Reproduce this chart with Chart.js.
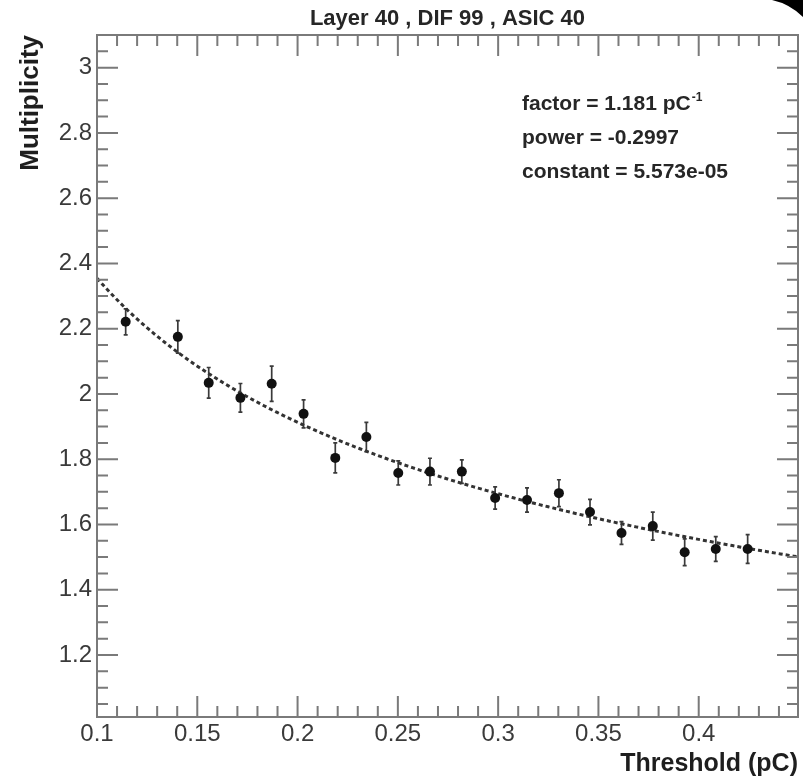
<!DOCTYPE html>
<html>
<head>
<meta charset="utf-8">
<script src="https://cdn.jsdelivr.net/npm/chart.js@4.4.0/dist/chart.umd.min.js"></script>
<style>
  html, body { margin: 0; padding: 0; background: #fff; }
  #wrap { width: 803px; height: 779px; }
</style>
</head>
<body>
<div id="wrap"><canvas id="chart" width="803" height="779"></canvas></div>
<script>
// Threshold scan for Layer 40 / DIF 99 / ASIC 40
const thresholds = [0.1143, 0.1403, 0.1557, 0.1715, 0.1871, 0.2030, 0.2188, 0.2343, 0.2502, 0.2660,
                    0.2819, 0.2985, 0.3144, 0.3303, 0.3458, 0.3615, 0.3771, 0.3930, 0.4085, 0.4244];
const multiplicity = [2.221, 2.175, 2.034, 1.988, 2.031, 1.939, 1.804, 1.868, 1.758, 1.762,
                      1.762, 1.681, 1.675, 1.696, 1.638, 1.574, 1.595, 1.515, 1.525, 1.525];
const multErrors = [0.040, 0.050, 0.047, 0.044, 0.054, 0.043, 0.046, 0.045, 0.037, 0.041,
                    0.036, 0.034, 0.037, 0.041, 0.039, 0.035, 0.043, 0.041, 0.038, 0.044];

// fit result: multiplicity = factor * threshold^power + constant
const fitFactor = 1.181;
const fitPower = -0.2997;
const fitConstant = 5.573e-05;
const fitLabels = ['factor = 1.181 pC', 'power = -0.2997', 'constant = 5.573e-05'];

const plotTitle = 'Layer 40 , DIF 99 , ASIC 40';
const xRange = [0.1, 0.4495];
const yRange = [1.01, 3.1];
const xMajor = 0.05, xMinor = 0.01;
const yMajor = 0.2, yMinor = 0.05;

const FONT = '"Liberation Sans", Arial, Helvetica, sans-serif';
const AXIS_GREY = '#7a7a7a';

// sample the fitted function across the x range
const fitCurve = [];
const nSteps = 160;
for (let i = 0; i <= nSteps; i++) {
  const x = xRange[0] + (xRange[1] - xRange[0]) * i / nSteps;
  fitCurve.push({ x: x, y: fitFactor * Math.pow(x, fitPower) + fitConstant });
}

const points = thresholds.map((t, i) => ({ x: t, y: multiplicity[i] }));

function fmt(v) { return String(+v.toFixed(2)); }

// frame + ROOT style ticks on all four sides
const frameTicks = {
  id: 'frameTicks',
  afterDatasetsDraw(chart) {
    const { ctx, chartArea: a, scales: { x, y } } = chart;
    ctx.save();
    ctx.strokeStyle = AXIS_GREY;
    ctx.lineWidth = 2;
    ctx.beginPath();
    const k0 = Math.ceil(xRange[0] / xMinor - 1e-9), k1 = Math.floor(xRange[1] / xMinor + 1e-9);
    for (let k = k0; k <= k1; k++) {
      const px = x.getPixelForValue(k * xMinor);
      if (px <= a.left + 0.5 || px >= a.right - 0.5) continue;
      const len = (k % 5 === 0) ? 21 : 11;
      ctx.moveTo(px, a.bottom); ctx.lineTo(px, a.bottom - len);
      ctx.moveTo(px, a.top); ctx.lineTo(px, a.top + len);
    }
    const j0 = Math.ceil(yRange[0] / yMinor - 1e-9), j1 = Math.floor(yRange[1] / yMinor + 1e-9);
    for (let j = j0; j <= j1; j++) {
      const py = y.getPixelForValue(j * yMinor);
      if (py <= a.top + 0.5 || py >= a.bottom - 0.5) continue;
      const len = (j % 4 === 0) ? 21 : 11;
      ctx.moveTo(a.left, py); ctx.lineTo(a.left + len, py);
      ctx.moveTo(a.right, py); ctx.lineTo(a.right - len, py);
    }
    ctx.stroke();
    ctx.strokeRect(a.left, a.top, a.right - a.left, a.bottom - a.top);
    ctx.restore();
  }
};

// vertical error bars with short end caps
const errorBars = {
  id: 'errorBars',
  beforeDatasetsDraw(chart) {
    const { ctx, scales: { x, y } } = chart;
    ctx.save();
    ctx.strokeStyle = '#3a3a3a';
    ctx.lineWidth = 1.7;
    ctx.beginPath();
    thresholds.forEach((t, i) => {
      const px = x.getPixelForValue(t);
      const lo = y.getPixelForValue(multiplicity[i] - multErrors[i]);
      const hi = y.getPixelForValue(multiplicity[i] + multErrors[i]);
      ctx.moveTo(px, lo); ctx.lineTo(px, hi);
      ctx.moveTo(px - 2, lo); ctx.lineTo(px + 2, lo);
      ctx.moveTo(px - 2, hi); ctx.lineTo(px + 2, hi);
    });
    ctx.stroke();
    ctx.restore();
  }
};

// title, fit parameters and the dark corner
const overlayText = {
  id: 'overlayText',
  afterDraw(chart) {
    const { ctx, chartArea: a } = chart;
    ctx.save();
    ctx.fillStyle = '#262626';
    ctx.font = 'bold 22px ' + FONT;
    ctx.textAlign = 'center';
    ctx.textBaseline = 'middle';
    ctx.fillText(plotTitle, (a.left + a.right) / 2, 19);

    ctx.textAlign = 'left';
    ctx.textBaseline = 'alphabetic';
    ctx.font = 'bold 21px ' + FONT;
    const tx = a.left + 425;
    fitLabels.forEach((s, i) => {
      ctx.fillText(s, tx, a.top + 75 + i * 34);
    });
    const w = ctx.measureText(fitLabels[0]).width;
    ctx.font = 'bold 12px ' + FONT;
    ctx.fillText('-1', tx + w + 1, a.top + 66);

    ctx.fillStyle = '#000';
    ctx.beginPath();
    ctx.moveTo(772, 0);
    ctx.quadraticCurveTo(790, 4, 803, 17);
    ctx.lineTo(803, 0);
    ctx.closePath();
    ctx.fill();
    ctx.restore();
  }
};

new Chart(document.getElementById('chart'), {
  type: 'scatter',
  data: {
    datasets: [
      {
        label: 'data',
        data: points,
        pointRadius: 5,
        pointBackgroundColor: '#111',
        pointBorderWidth: 0,
        showLine: false,
        order: 1
      },
      {
        label: 'fit',
        data: fitCurve,
        showLine: true,
        pointRadius: 0,
        borderColor: '#333',
        borderWidth: 3,
        borderDash: [4, 3],
        tension: 0,
        order: 2
      }
    ]
  },
  options: {
    responsive: false,
    animation: false,
    layout: { padding: { top: 35, right: 4, left: 0, bottom: 0 } },
    plugins: {
      legend: { display: false },
      tooltip: { enabled: false },
      title: { display: false }
    },
    scales: {
      x: {
        type: 'linear',
        position: 'bottom',
        min: xRange[0],
        max: xRange[1],
        grid: { display: false, drawTicks: false },
        border: { display: false },
        ticks: {
          stepSize: xMajor,
          includeBounds: false,
          autoSkip: false,
          maxRotation: 0,
          padding: 3,
          color: '#3a3a3a',
          font: { family: FONT, size: 24 },
          callback: (v) => fmt(v)
        },
        title: {
          display: true,
          text: 'Threshold (pC)',
          align: 'end',
          color: '#1e1e1e',
          font: { family: FONT, size: 25, weight: 'bold' },
          padding: { top: 0, bottom: 0 }
        },
        afterFit(scale) { scale.height = 62; }
      },
      y: {
        type: 'linear',
        min: yRange[0],
        max: yRange[1],
        grid: { display: false, drawTicks: false },
        border: { display: false },
        ticks: {
          stepSize: yMajor,
          includeBounds: false,
          padding: 5,
          color: '#3a3a3a',
          font: { family: FONT, size: 24 },
          callback: (v) => fmt(v)
        },
        title: {
          display: true,
          text: 'Multiplicity',
          align: 'end',
          color: '#1e1e1e',
          font: { family: FONT, size: 26, weight: 'bold' },
          padding: { top: 15, bottom: 0 }
        },
        afterFit(scale) { scale.width = 97; }
      }
    }
  },
  plugins: [errorBars, frameTicks, overlayText]
});
</script>
</body>
</html>
